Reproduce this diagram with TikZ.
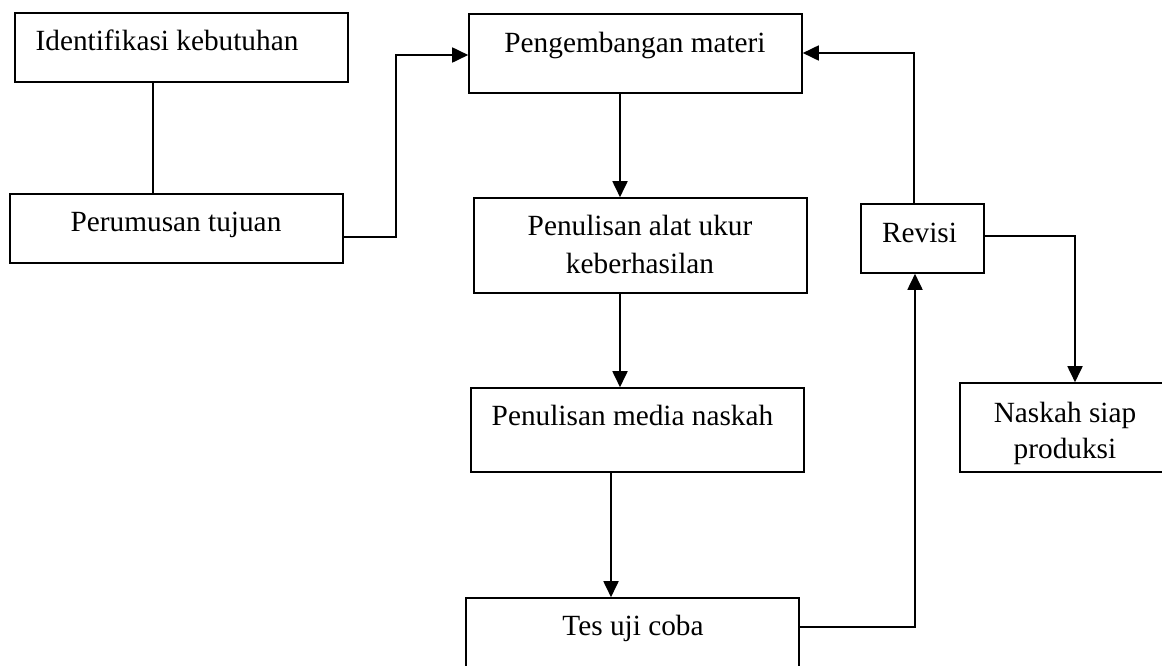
\documentclass[tikz,border=0pt]{standalone}
\usepackage{fontspec}
\setmainfont{Liberation Serif}
\usetikzlibrary{arrows.meta}
\tikzset{
  boxst/.style={draw, line width=1.6pt, inner sep=0pt, rectangle},
  txt/.style={anchor=base, inner sep=0pt, font=\fontsize{29.3}{37}\selectfont},
  conn/.style={line width=1.8pt},
  arr/.style={line width=1.8pt, -{Triangle[length=16pt, width=15pt]}}
}
\begin{document}
\begin{tikzpicture}[x=1pt, y=-1pt]
\useasboundingbox (0,0) rectangle (1162,665);
\clip (0,0) rectangle (1162,665);
\fill[white] (0,0) rectangle (1162,665);

% boxes
\node[boxst, minimum width=333, minimum height=69] (b1) at (181.5,47.5) {};
\node[boxst, minimum width=333, minimum height=69] (b2) at (176.5,228.5) {};
\node[boxst, minimum width=333, minimum height=79] (b3) at (635.5,53.5) {};
\node[boxst, minimum width=333, minimum height=95] (b4) at (640.5,245.5) {};
\node[boxst, minimum width=333, minimum height=84] (b5) at (637.5,430) {};
\node[boxst, minimum width=333, minimum height=90] (b6) at (632.5,643) {};
\node[boxst, minimum width=123, minimum height=69] (b7) at (922.5,238.5) {};
\node[boxst, minimum width=210, minimum height=89] (b8) at (1065,427.5) {};

% texts
\node[txt] (t1) at (167,50) {Identifikasi kebutuhan};
\node[txt] (t2) at (176,231) {Perumusan tujuan};
\node[txt] (t3) at (635,52) {Pengembangan materi};
\node[txt] (t4a) at (640,235) {Penulisan alat ukur};
\node[txt] (t4b) at (640,273) {keberhasilan};
\node[txt] (t5) at (632.5,425) {Penulisan media naskah};
\node[txt] (t6) at (633,635) {Tes uji coba};
\node[txt] (t7) at (919.5,242) {Revisi};
\node[txt] (t8a) at (1065,422) {Naskah siap};
\node[txt] (t8b) at (1065,458) {produksi};

% junction coordinates
\coordinate (c1) at (153,0);
\coordinate (j1) at (396,237);
\coordinate (j2) at (396,55);
\coordinate (c2) at (620,0);
\coordinate (c3) at (611,0);
\coordinate (j3) at (915,627);
\coordinate (j4) at (914,53);
\coordinate (j5) at (1075,236);

% connectors
\draw[conn] (b1.south -| c1) -- (b2.north -| c1);
\draw[conn] (b2.east |- j1) -- (j1);
\draw[arr] (396,238) -- (j2) -- (b3.west |- j2);
\draw[arr] (b3.south -| c2) -- (b4.north -| c2);
\draw[arr] (b4.south -| c2) -- (b5.north -| c2);
\draw[arr] (b5.south -| c3) -- (b6.north -| c3);
\draw[arr] (b6.east |- j3) -- (j3) -- (b7.south -| j3);
\draw[arr] (b7.north -| j4) -- (j4) -- (b3.east |- j4);
\draw[arr] (b7.east |- j5) -- (j5) -- (b8.north -| j5);
\end{tikzpicture}
\end{document}
